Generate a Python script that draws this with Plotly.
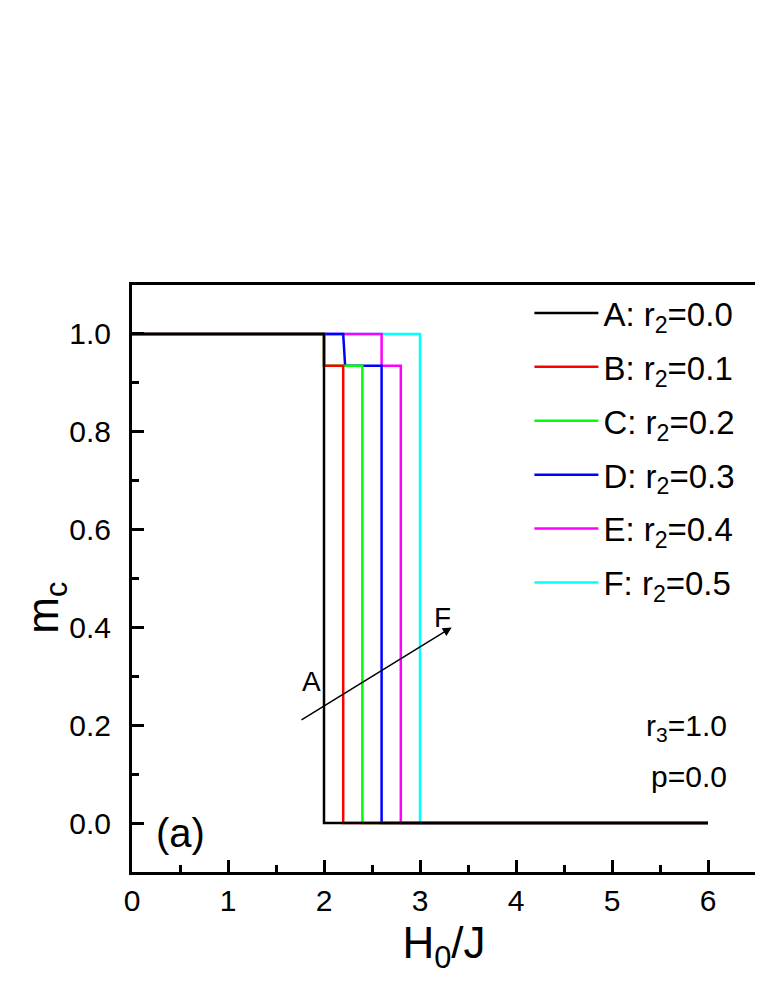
import plotly.graph_objects as go

# H0/J breakpoints and m_c values for each curve (A..F)
names = ["A: r<sub>2</sub>=0.0", "B: r<sub>2</sub>=0.1", "C: r<sub>2</sub>=0.2",
         "D: r<sub>2</sub>=0.3", "E: r<sub>2</sub>=0.4", "F: r<sub>2</sub>=0.5"]
colors = ["#000000", "#FF0000", "#00FF00", "#0000FF", "#FF00FF", "#00FFFF"]

h_A = [0.0, 2.0, 2.0, 6.0]
m_A = [1.0, 1.0, 0.0, 0.0]
h_B = [0.0, 2.0, 2.0, 2.2, 2.2, 6.0]
m_B = [1.0, 1.0, 0.935, 0.935, 0.0, 0.0]
h_C = [0.0, 2.0, 2.0, 2.4, 2.4, 6.0]
m_C = [1.0, 1.0, 0.935, 0.935, 0.0, 0.0]
h_D = [0.0, 2.2, 2.22, 2.6, 2.6, 6.0]
m_D = [1.0, 1.0, 0.935, 0.935, 0.0, 0.0]
h_E = [0.0, 2.6, 2.6, 2.8, 2.8, 6.0]
m_E = [1.0, 1.0, 0.935, 0.935, 0.0, 0.0]
h_F = [0.0, 3.0, 3.0, 6.0]
m_F = [1.0, 1.0, 0.0, 0.0]

xs = [h_A, h_B, h_C, h_D, h_E, h_F]
ys = [m_A, m_B, m_C, m_D, m_E, m_F]

font = "Arial, Liberation Sans, sans-serif"

fig = go.Figure()
# draw F first so that A ends up on top, legend stays A..F
for i in reversed(range(6)):
    fig.add_trace(go.Scatter(
        x=xs[i], y=ys[i], mode="lines", name=names[i],
        line=dict(color=colors[i], width=2.5),
        legendrank=i + 1, legendgroup=str(i),
    ))

axis_common = dict(
    showline=True, linecolor="black", linewidth=3, mirror=True,
    ticks="inside", ticklen=12, tickwidth=2.5, tickcolor="black",
    showgrid=False, zeroline=False,
    tickfont=dict(family=font, size=30, color="black"),
)

fig.update_xaxes(
    range=[0, 6.5], dtick=1, tick0=0,
    minor=dict(ticks="inside", ticklen=7, tickwidth=2.5, tickcolor="black", dtick=0.5),
    title=dict(text="H<sub>0</sub>/J", font=dict(family=font, size=44, color="black"), standoff=12),
    **axis_common,
)
fig.update_yaxes(
    range=[-0.1, 1.1], dtick=0.2, tick0=0, tickformat=".1f",
    minor=dict(ticks="inside", ticklen=7, tickwidth=2.5, tickcolor="black", dtick=0.1),
    ticklabelstandoff=12,
    **axis_common,
)

# y axis title placed as annotation to match reference position
fig.add_annotation(x=-0.138, y=0.45, xref="paper", yref="paper", text="m<sub>c</sub>",
                   xanchor="center", yanchor="middle",
                   textangle=-90, showarrow=False,
                   font=dict(family=font, size=44, color="black"))

fig.add_annotation(x=3.33, y=0.40, ax=1.75, ay=0.209, xref="x", yref="y",
                   axref="x", ayref="y", text="", showarrow=True,
                   arrowhead=2, arrowsize=1.2, arrowwidth=1.5, arrowcolor="black")
fig.add_annotation(x=1.87, y=0.29, text="A", showarrow=False,
                   font=dict(family=font, size=28, color="black"))
fig.add_annotation(x=3.23, y=0.42, text="F", showarrow=False,
                   font=dict(family=font, size=28, color="black"))
fig.add_annotation(x=0.5, y=-0.02, text="(a)", showarrow=False,
                   font=dict(family=font, size=40, color="black"))
fig.add_annotation(x=6.22, y=0.195, text="r<sub>3</sub>=1.0", showarrow=False,
                   xanchor="right", font=dict(family=font, size=30, color="black"))
fig.add_annotation(x=6.22, y=0.095, text="p=0.0", showarrow=False,
                   xanchor="right", font=dict(family=font, size=30, color="black"))

fig.update_layout(
    width=763, height=987,
    margin=dict(l=124, r=15, t=277, b=123),
    plot_bgcolor="white", paper_bgcolor="white",
    font=dict(family=font, color="black"),
    legend=dict(
        x=0.975, y=1.0, xanchor="right", yanchor="top",
        bgcolor="rgba(0,0,0,0)", borderwidth=0,
        font=dict(family=font, size=33, color="black"),
        tracegroupgap=8, itemwidth=64,
    ),
)

fig.write_html("out.html")
